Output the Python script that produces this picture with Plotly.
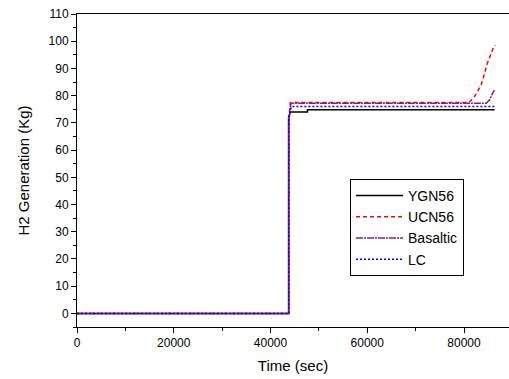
import plotly.graph_objects as go

# Data (time in sec, H2 generation in kg)
ygn_t = [0, 43740, 43740, 44100, 47650, 47650, 86300]
ygn_v = [0, 0, 72, 74.0, 74.0, 74.8, 74.8]

ucn_t = [0, 43800, 43800, 44100, 81100, 82300, 83550, 84850, 86150, 86500]
ucn_v = [0, 0, 72, 77.5, 77.5, 80, 84, 92, 98, 98.5]

bas_t = [0, 43760, 43760, 44200, 84600, 85300, 85950, 86300]
bas_v = [0, 0, 70, 77.2, 77.2, 78.5, 81, 82]

lc_t = [0, 43780, 43780, 44300, 86300]
lc_v = [0, 0, 72, 76, 76]

series_names = ["YGN56", "UCN56", "Basaltic", "LC"]

x_ticks = [0, 20000, 40000, 60000, 80000]
y_ticks = list(range(0, 111, 10))

fig = go.Figure()
fig.add_trace(go.Scatter(x=ygn_t, y=ygn_v, mode="lines", name=series_names[0],
                         line=dict(color="black", width=1.5, dash="solid")))
fig.add_trace(go.Scatter(x=ucn_t, y=ucn_v, mode="lines", name=series_names[1],
                         line=dict(color="#ff0000", width=1.5, dash="4px,3px")))
fig.add_trace(go.Scatter(x=bas_t, y=bas_v, mode="lines", name=series_names[2],
                         line=dict(color="#8b1a8b", width=1.5, dash="7px,1px,2px,1px")))
fig.add_trace(go.Scatter(x=lc_t, y=lc_v, mode="lines", name=series_names[3],
                         line=dict(color="#0000ff", width=1.5, dash="2px,2px")))

font_family = "Liberation Sans, Arial, sans-serif"

fig.update_layout(
    width=509, height=379,
    margin=dict(l=77, r=0, t=14, b=52),
    paper_bgcolor="white", plot_bgcolor="white",
    font=dict(family=font_family, size=12, color="black"),
    showlegend=True,
    legend=dict(x=0.632, y=0.473, xanchor="left", yanchor="top",
                bordercolor="black", borderwidth=1, bgcolor="white",
                font=dict(size=14, family=font_family),
                tracegroupgap=0, itemwidth=47),
    xaxis=dict(range=[0, 89300], tickvals=x_ticks, tickformat="d",
               showgrid=False, zeroline=False, showline=True, linecolor="black",
               linewidth=1, mirror=True, ticks="outside", ticklen=5, tickcolor="black",
               minor=dict(dtick=10000, ticks="outside", ticklen=3, tickcolor="black"),
               title=dict(text="Time (sec)", font=dict(size=15), standoff=11)),
    yaxis=dict(range=[-5, 110], tickvals=y_ticks,
               showgrid=False, zeroline=False, showline=True, linecolor="black",
               linewidth=1, mirror=False, ticks="outside", ticklen=5, tickcolor="black",
               minor=dict(dtick=5, ticks="outside", ticklen=3, tickcolor="black"),
               title=dict(text="H2 Generation (Kg)", font=dict(size=15), standoff=15)),
)

fig.write_html("out.html")
